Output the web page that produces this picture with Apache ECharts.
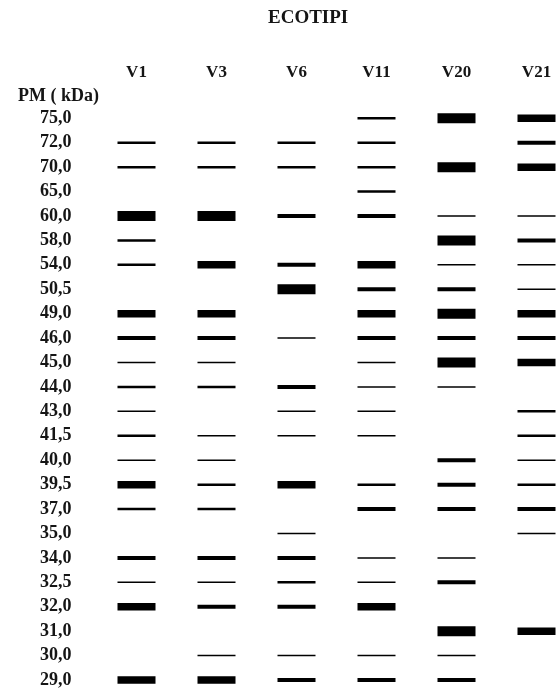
<!DOCTYPE html>
<html>
<head>
<meta charset="utf-8">
<script src="https://cdn.jsdelivr.net/npm/echarts@6/dist/echarts.min.js"></script>
<style>
html,body{margin:0;padding:0;background:#fff;}
#chart{width:559px;height:690px;}
</style>
</head>
<body>
<div id="chart"></div>
<script>
// Lanes (ecotypes) and molecular-weight rows
var lanes = ['V1', 'V3', 'V6', 'V11', 'V20', 'V21'];
var pmLabels = ['75,0','72,0','70,0','65,0','60,0','58,0','54,0','50,5','49,0','46,0','45,0','44,0','43,0','41,5','40,0','39,5','37,0','35,0','34,0','32,5','32,0','31,0','30,0','29,0'];

// Band intensity per row (0 = no band, 1 faint ... 5 very strong)
var bandV1  = [0,2,2,0,5,2,2,0,4,3,1,2,1,2,1,4,2,0,3,1,4,0,0,4];
var bandV3  = [0,2,2,0,5,0,4,0,4,3,1,2,0,1,1,2,2,0,3,1,3,0,1,4];
var bandV6  = [0,2,2,0,3,0,3,5,0,1,0,3,1,1,0,4,0,1,3,2,3,0,1,3];
var bandV11 = [2,2,2,2,3,0,4,3,4,3,1,1,1,1,0,2,3,0,1,1,4,0,1,3];
var bandV20 = [5,0,5,0,1,5,1,3,5,3,5,1,0,0,3,3,3,0,1,3,0,5,1,3];
var bandV21 = [4,3,4,0,1,3,1,1,4,3,4,0,2,2,1,2,3,1,0,0,0,4,0,0];

var laneBands = [bandV1, bandV3, bandV6, bandV11, bandV20, bandV21];

// style: band thickness in px per intensity level
var levelPx = [0, 1.5, 2.5, 4, 7.5, 10];

var data = [];
laneBands.forEach(function (arr, li) {
  arr.forEach(function (v, ri) {
    if (v > 0) data.push([lanes[li], pmLabels[ri], v]);
  });
});

var FONT = 'Liberation Serif';
var chart = echarts.init(document.getElementById('chart'), null, {renderer: 'canvas'});
chart.setOption({
  animation: false,
  backgroundColor: '#ffffff',
  graphic: [
    {type: 'text', left: 268, top: 9,
     style: {text: 'ECOTIPI', font: 'bold 19px "' + FONT + '"', fill: '#151515'}},
    {type: 'text', left: 18, top: 87,
     style: {text: 'PM ( kDa)', font: 'bold 18px "' + FONT + '"', fill: '#151515'}}
  ],
  grid: {left: 136.5, right: 22.5, top: 118.3, bottom: 10, containLabel: false},
  xAxis: {
    type: 'category', position: 'top', data: lanes, boundaryGap: false,
    axisLine: {show: false}, axisTick: {show: false}, splitLine: {show: false},
    axisLabel: {margin: 37, color: '#151515', fontFamily: FONT, fontWeight: 'bold', fontSize: 17, interval: 0}
  },
  yAxis: {
    type: 'category', inverse: true, data: pmLabels, boundaryGap: false,
    axisLine: {show: false}, axisTick: {show: false}, splitLine: {show: false},
    axisLabel: {margin: 65, color: '#151515', fontFamily: FONT, fontWeight: 'bold', fontSize: 18, interval: 0}
  },
  series: [{
    type: 'scatter',
    data: data,
    symbol: 'rect',
    symbolSize: function (v) { return [38, levelPx[v[2]]]; },
    itemStyle: {color: '#000000', opacity: 1},
    silent: true
  }]
});
</script>
</body>
</html>
